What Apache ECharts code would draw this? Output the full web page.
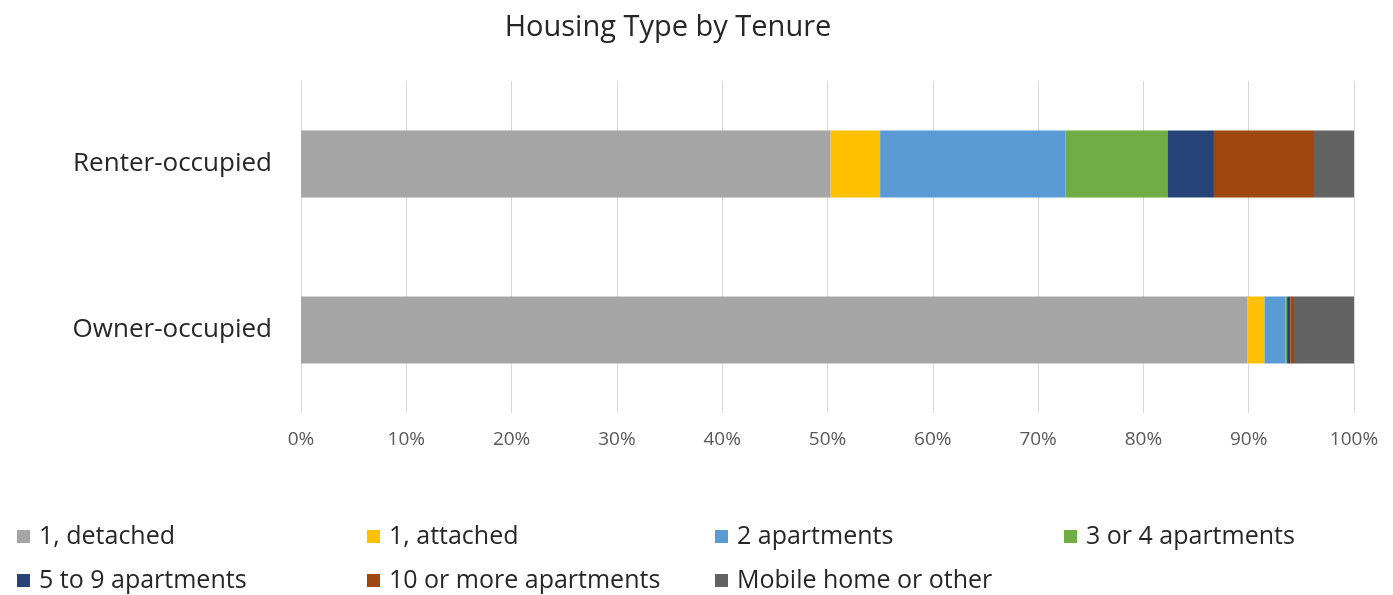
<!DOCTYPE html>
<html>
<head>
<meta charset="utf-8">
<script src="https://cdn.jsdelivr.net/npm/echarts@6/dist/echarts.min.js"></script>
<style>
  html, body { margin: 0; padding: 0; background: #fff; }
  #chart { width: 1393px; height: 595px; }
</style>
</head>
<body>
<div id="chart"></div>
<script>
// categories, bottom to top as ECharts draws them
const tenures = ['Owner-occupied', 'Renter-occupied'];

const housingTypes = [
  '1, detached', '1, attached', '2 apartments', '3 or 4 apartments',
  '5 to 9 apartments', '10 or more apartments', 'Mobile home or other'
];

// shares in percent, [owner, renter]
const detached = [89.9, 50.3];
const attached = [1.6, 4.7];
const twoApts = [2.0, 17.6];
const threeFourApts = [0.15, 9.7];
const fiveNineApts = [0.3, 4.4];
const tenPlusApts = [0.35, 9.5];
const mobileOther = [5.7, 3.8];

const xTicks = ['0%', '10%', '20%', '30%', '40%', '50%', '60%', '70%', '80%', '90%', '100%'];

const seriesValues = [detached, attached, twoApts, threeFourApts, fiveNineApts, tenPlusApts, mobileOther];
const colors = ['#A5A5A5', '#FFC000', '#5B9BD5', '#70AD47', '#264478', '#9E480E', '#636363'];

const font = '"Open Sans", "Noto Sans", sans-serif';

const chart = echarts.init(document.getElementById('chart'));

// fixed legend columns, like the original
const legendCols = [12, 362, 710, 1059];
const legends = housingTypes.map((name, i) => ({
  data: [name],
  left: legendCols[i % 4],
  top: i < 4 ? 519 : 563,
  itemWidth: 13,
  itemHeight: 13,
  itemGap: 0,
  icon: 'rect',
  textStyle: { fontSize: 25, color: '#262626', fontFamily: font, padding: [0, 0, 0, 4] },
}));

chart.setOption({
  animation: false,
  title: {
    text: 'Housing Type by Tenure',
    left: 663,
    textAlign: 'center',
    top: 8,
    textStyle: { fontSize: 29, fontWeight: 'normal', color: '#262626', fontFamily: font },
  },
  legend: legends,
  grid: {
    left: 301,
    right: 39,
    top: 81,
    bottom: 182,
  },
  xAxis: {
    type: 'value',
    min: 0,
    max: 100,
    interval: 10,
    axisLine: { show: false },
    axisTick: { show: false },
    splitLine: { lineStyle: { color: '#D9D9D9', width: 1 } },
    axisLabel: {
      margin: 17,
      fontSize: 19,
      color: '#595959',
      fontFamily: font,
      formatter: (v) => xTicks[Math.round(v / 10)],
    },
  },
  yAxis: {
    type: 'category',
    data: tenures,
    axisLine: { lineStyle: { color: '#D9D9D9' } },
    axisTick: { length: 7, lineStyle: { color: '#D9D9D9' } },
    axisLabel: { margin: 29, fontSize: 26, color: '#262626', fontFamily: font, padding: [3, 0, 0, 0] },
  },
  series: housingTypes.map((name, i) => ({
    name,
    type: 'bar',
    stack: 'total',
    data: seriesValues[i],
    barWidth: 67,
    itemStyle: { color: colors[i] },
  })),
});
</script>
</body>
</html>
